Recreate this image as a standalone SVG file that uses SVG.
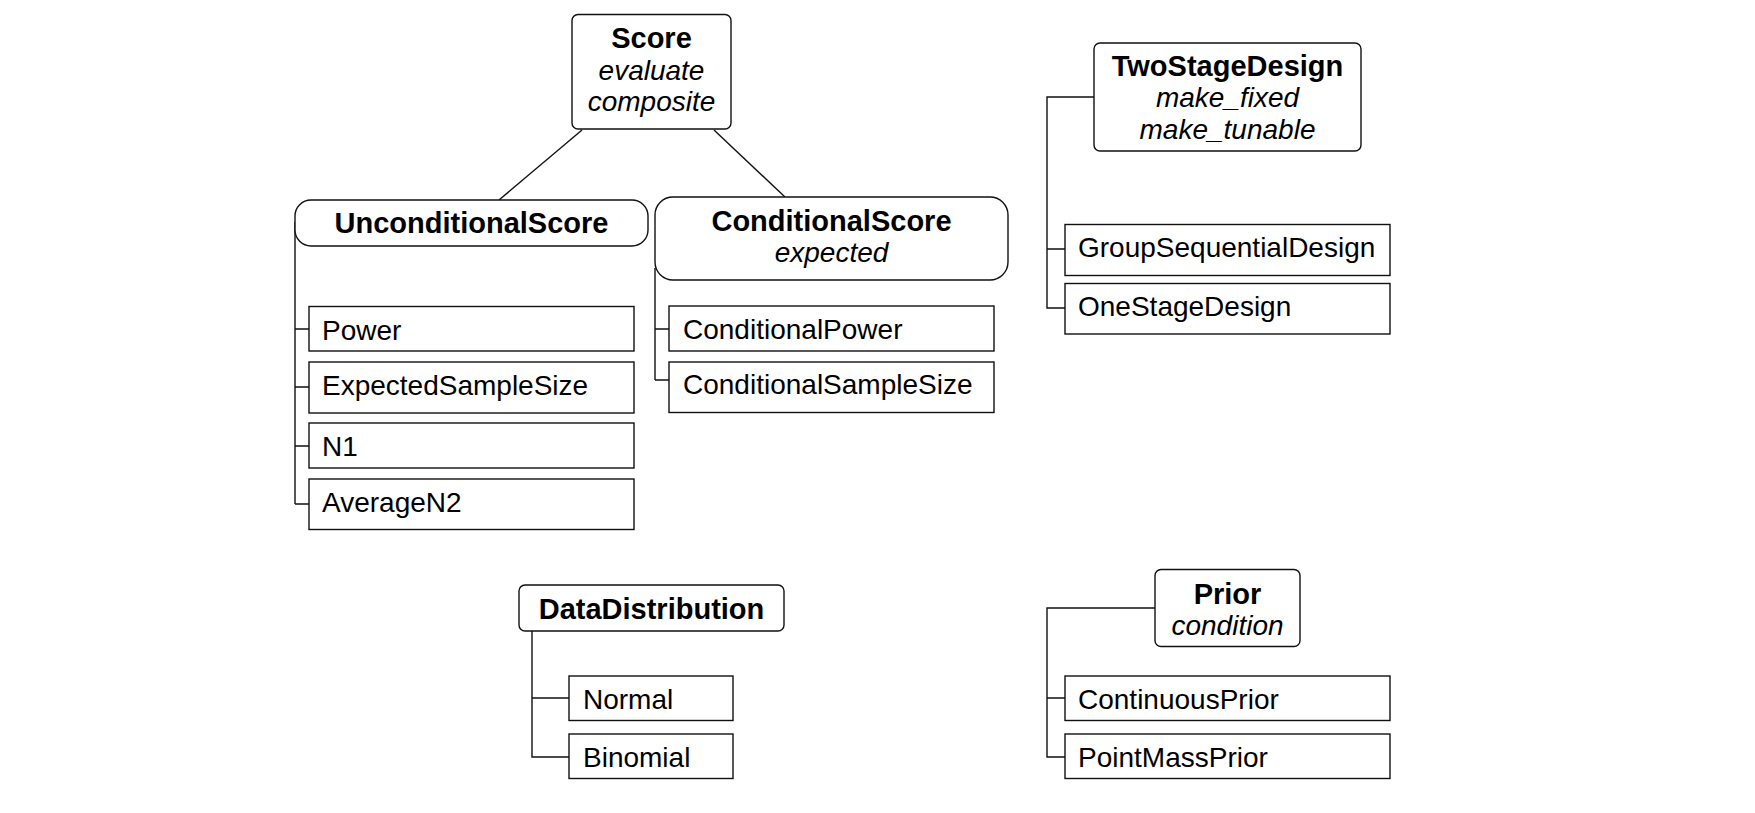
<svg xmlns="http://www.w3.org/2000/svg" width="1755" height="813" viewBox="0 0 1755 813">
<style>
  .box{fill:#fff;stroke:#111;stroke-width:1.4}
  .ln{fill:none;stroke:#111;stroke-width:1.4}
  text{font-family:"Liberation Sans",Arial,sans-serif;font-size:28px;fill:#000}
  .b{font-weight:bold;font-size:29px}
  .i{font-style:italic}
  .c{text-anchor:middle}
</style>
<rect width="1755" height="813" fill="#fff"/>
<g id="connectors">
  <line class="ln" x1="582" y1="130" x2="499" y2="200"/>
  <line class="ln" x1="714" y1="130" x2="785" y2="197"/>
  <path class="ln" d="M295,222 V504 M295,329 H309 M295,387 H309 M295,446 H309 M295,504 H309"/>
  <path class="ln" d="M655,268 V380 M655,329 H669 M655,380 H669"/>
  <path class="ln" d="M1094,97 H1047 V308 H1065 M1047,249 H1065"/>
  <path class="ln" d="M532,631 V757 H569 M532,698 H569"/>
  <path class="ln" d="M1155,608 H1047 V757 H1065 M1047,698 H1065"/>
</g>
<g id="Score">
  <rect class="box" x="572" y="14.5" width="159" height="114.5" rx="6"/>
  <text class="b c" x="651.5" y="48">Score</text>
  <text class="i c" x="651.5" y="80">evaluate</text>
  <text class="i c" x="651.5" y="111">composite</text>
</g>
<g id="UnconditionalScore">
  <rect class="box" x="295" y="200" width="353" height="46" rx="16"/>
  <text class="b c" x="471.5" y="233">UnconditionalScore</text>
</g>
<g id="ConditionalScore">
  <rect class="box" x="655" y="197" width="353" height="83" rx="18"/>
  <text class="b c" x="831.5" y="231">ConditionalScore</text>
  <text class="i c" x="831.5" y="262">expected</text>
</g>
<g id="Power">
  <rect class="box" x="309" y="306.5" width="325" height="44.5"/>
  <text x="322" y="339.5">Power</text>
</g>
<g id="ExpectedSampleSize">
  <rect class="box" x="309" y="362" width="325" height="51"/>
  <text x="322" y="395">ExpectedSampleSize</text>
</g>
<g id="N1">
  <rect class="box" x="309" y="423" width="325" height="45"/>
  <text x="322" y="456">N1</text>
</g>
<g id="AverageN2">
  <rect class="box" x="309" y="479" width="325" height="50.5"/>
  <text x="322" y="512">AverageN2</text>
</g>
<g id="ConditionalPower">
  <rect class="box" x="669" y="306" width="325" height="45"/>
  <text x="683" y="338.5">ConditionalPower</text>
</g>
<g id="ConditionalSampleSize">
  <rect class="box" x="669" y="362" width="325" height="50.5"/>
  <text x="683" y="394">ConditionalSampleSize</text>
</g>
<g id="TwoStageDesign">
  <rect class="box" x="1094" y="43" width="267" height="108" rx="6"/>
  <text class="b c" x="1227.5" y="76">TwoStageDesign</text>
  <text class="i c" x="1227.5" y="107">make_fixed</text>
  <text class="i c" x="1227.5" y="138.5">make_tunable</text>
</g>
<g id="GroupSequentialDesign">
  <rect class="box" x="1065" y="224.5" width="325" height="51"/>
  <text x="1078" y="257">GroupSequentialDesign</text>
</g>
<g id="OneStageDesign">
  <rect class="box" x="1065" y="283.5" width="325" height="50.5"/>
  <text x="1078" y="315.5">OneStageDesign</text>
</g>
<g id="DataDistribution">
  <rect class="box" x="519" y="585" width="265" height="46" rx="6"/>
  <text class="b c" x="651.5" y="618.5">DataDistribution</text>
</g>
<g id="Normal">
  <rect class="box" x="569" y="676" width="164" height="44.5"/>
  <text x="583" y="708.5">Normal</text>
</g>
<g id="Binomial">
  <rect class="box" x="569" y="734" width="164" height="44.5"/>
  <text x="583" y="767">Binomial</text>
</g>
<g id="Prior">
  <rect class="box" x="1155" y="569.5" width="145" height="77" rx="6"/>
  <text class="b c" x="1227.5" y="603.5">Prior</text>
  <text class="i c" x="1227.5" y="634.5">condition</text>
</g>
<g id="ContinuousPrior">
  <rect class="box" x="1065" y="676" width="325" height="44.5"/>
  <text x="1078" y="708.5">ContinuousPrior</text>
</g>
<g id="PointMassPrior">
  <rect class="box" x="1065" y="734" width="325" height="44.5"/>
  <text x="1078" y="767">PointMassPrior</text>
</g>
</svg>
